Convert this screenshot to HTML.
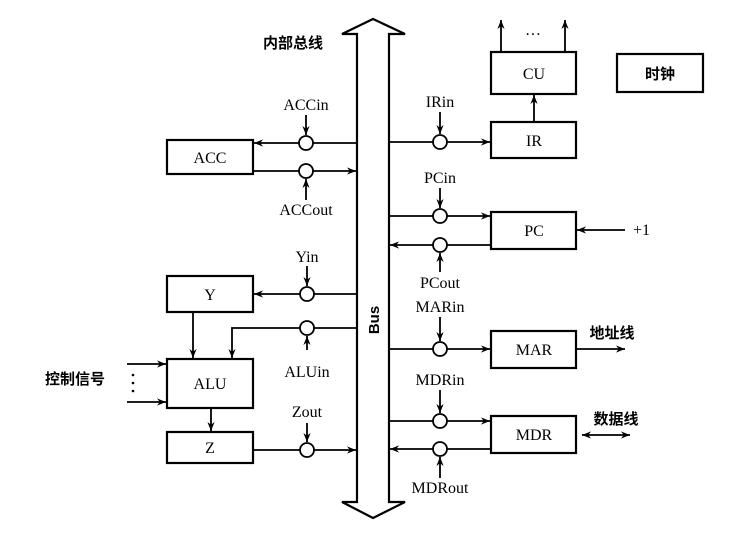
<!DOCTYPE html>
<html><head><meta charset="utf-8"><style>
body{margin:0;background:#fff}
text{font-family:"Liberation Serif","Noto Serif CJK SC",serif;font-size:16px;fill:#000}
.c{font-family:"Liberation Sans","Noto Sans CJK SC",sans-serif;font-weight:bold;font-size:15px}
</style></head><body>
<svg width="745" height="536" viewBox="0 0 745 536" xmlns="http://www.w3.org/2000/svg">
<defs><marker id="a" viewBox="0 0 10 10" refX="10" refY="5" markerWidth="11" markerHeight="9" orient="auto-start-reverse" markerUnits="userSpaceOnUse"><path d="M0,1 L10,5 L0,9 L3,5Z" fill="#000"/></marker></defs>
<g stroke="#000" stroke-width="2.2" fill="none">
<path d="M357,502 L357,34 L342,34 L373,19 L405,34 L389,34 L389,502 L405,502 L373,518 L342,502 Z" fill="#fff"/>
<rect x="167" y="140" width="86" height="34"/>
<rect x="167" y="276" width="86" height="36"/>
<rect x="167" y="359" width="86" height="49"/>
<rect x="167" y="432" width="86" height="31"/>
<rect x="491" y="52" width="85" height="42"/>
<rect x="617" y="54" width="86" height="38"/>
<rect x="491" y="122" width="85" height="36"/>
<rect x="491" y="212" width="85" height="37"/>
<rect x="491" y="331" width="85" height="37"/>
<rect x="491" y="416" width="85" height="37"/>
</g>
<g stroke="#000" stroke-width="1.8" fill="none" marker-end="url(#a)">
<path d="M357,143 L254,143"/>
<path d="M253,171 L356,171"/>
<path d="M357,294 L254,294"/>
<path d="M357,328 L232,328 L232,358"/>
<path d="M193,312 L193,358"/>
<path d="M211,408 L211,431"/>
<path d="M253,450 L356,450"/>
<path d="M127,364 L166,364"/>
<path d="M127,402 L166,402"/>
<path d="M389,142 L490,142"/>
<path d="M389,216 L490,216"/>
<path d="M491,245 L390,245"/>
<path d="M389,349 L490,349"/>
<path d="M389,421 L490,421"/>
<path d="M491,449 L390,449"/>
<path d="M534,122 L534,95"/>
<path d="M501,52 L501,20"/>
<path d="M565,52 L565,20"/>
<path d="M625,230 L577,230"/>
<path d="M576,349 L625,349"/>
<path d="M582,435 L630,435" marker-start="url(#a)"/>
<path d="M306,115 L306,135"/>
<path d="M306,200 L306,179"/>
<path d="M307,266 L307,286"/>
<path d="M307,350 L307,336"/>
<path d="M307,423 L307,442"/>
<path d="M440,112 L440,134"/>
<path d="M440,188 L440,208"/>
<path d="M440,272 L440,253"/>
<path d="M440,317 L440,341"/>
<path d="M440,390 L440,413"/>
<path d="M440,478 L440,457"/>
</g>
<g stroke="#000" stroke-width="1.8" fill="#fff">
<circle cx="306" cy="143" r="7"/><circle cx="306" cy="171" r="7"/>
<circle cx="307" cy="294" r="7"/><circle cx="307" cy="328" r="7"/><circle cx="307" cy="450" r="7"/>
<circle cx="440" cy="142" r="7"/><circle cx="440" cy="216" r="7"/><circle cx="440" cy="245" r="7"/>
<circle cx="440" cy="349" r="7"/><circle cx="440" cy="421" r="7"/><circle cx="440" cy="449" r="7"/>
</g>
<g fill="#000"><circle cx="133" cy="375" r="1.3"/><circle cx="133" cy="383" r="1.3"/><circle cx="133" cy="391" r="1.3"/></g>
<g text-anchor="middle">
<text x="210" y="163">ACC</text><text x="210" y="300">Y</text><text x="210" y="389">ALU</text><text x="210" y="453">Z</text>
<text x="534" y="79">CU</text><text x="534" y="146">IR</text><text x="534" y="236">PC</text><text x="534" y="355">MAR</text><text x="534" y="440">MDR</text>
<text x="306" y="110">ACCin</text><text x="306" y="215">ACCout</text><text x="307" y="262">Yin</text><text x="307" y="377">ALUin</text><text x="307" y="417">Zout</text>
<text x="440" y="107">IRin</text><text x="440" y="183">PCin</text><text x="440" y="288">PCout</text><text x="440" y="312">MARin</text>
<text x="440" y="385">MDRin</text><text x="440" y="493">MDRout</text>
<text x="533" y="35">…</text>
<text class="c" x="660" y="79">时钟</text>
<text class="c" x="293" y="48">内部总线</text>
<text class="c" x="75" y="384">控制信号</text>
<text class="c" x="612" y="338">地址线</text>
<text class="c" x="616" y="424">数据线</text>
<text x="633" y="235" text-anchor="start">+1</text>
<text class="c" x="0" y="0" transform="translate(379,320) rotate(-90)">Bus</text>
</g>
</svg>
</body></html>
